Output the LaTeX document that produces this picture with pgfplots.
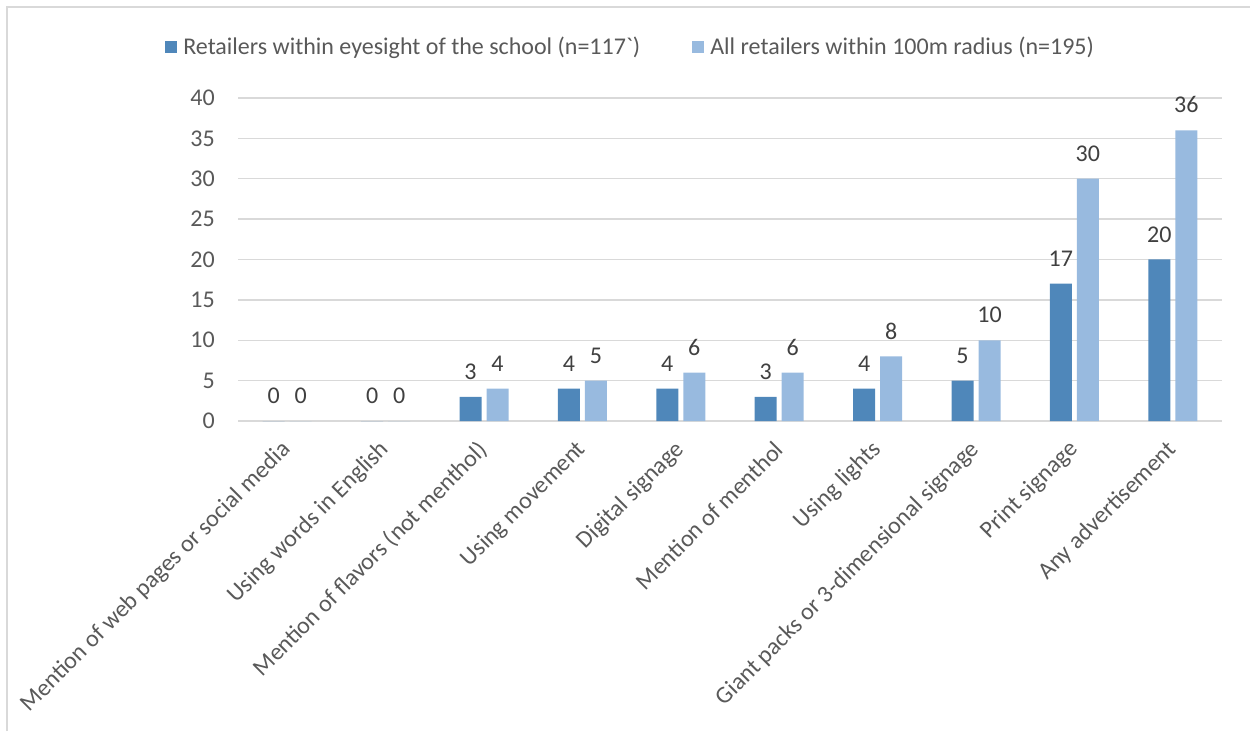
\documentclass[border=0pt]{standalone}
\usepackage{pgfplots}
\pgfplotsset{compat=1.18}
\usepackage{fontspec}
\setmainfont{Carlito}
\definecolor{darkbar}{HTML}{4F87BA}
\definecolor{lightbar}{HTML}{98BADF}
\definecolor{gridgray}{HTML}{D9D9D9}
\definecolor{labelgray}{HTML}{595959}
\definecolor{valgray}{HTML}{404040}
\newcommand{\chartfont}{\fontsize{24}{28}\selectfont}

\begin{document}
\begin{tikzpicture}[x=1pt,y=1pt]
\useasboundingbox (0,0) rectangle (1250,731);
% chart frame
\draw[gridgray, line width=2pt] (7,0) -- (7,724) -- (1250,724);
\begin{axis}[
  at={(238pt,310pt)}, anchor=south west,
  scale only axis, width=984pt, height=323pt,
  ybar=5pt, bar width=22pt,
  xmin=-0.5, xmax=9.5, ymin=0, ymax=40,
  enlargelimits=false,
  /pgf/number format/assume math mode=true,
  xtick={0,...,9},
  xticklabels={Mention of web pages or social media, Using words in English, Mention of flavors (not menthol), Using movement, Digital signage, Mention of menthol, Using lights, Giant packs or 3-dimensional signage, Print signage, Any advertisement},
  ytick={0,5,...,40},
  ymajorgrids,
  major grid style={gridgray, line width=1.5pt},
  axis line style={draw=none},
  tick style={draw=none},
  major tick length=0pt,
  tick label style={font=\chartfont, text=labelgray},
  yticklabel style={anchor=east, inner sep=0pt, xshift=-23pt},
  xticklabel style={xshift=0pt, yshift=-25pt, rotate=45, anchor=east, inner sep=0pt},
  nodes near coords,
  every node near coord/.append style={font=\chartfont, text=valgray, inner sep=0pt, anchor=south, yshift=17pt},
  legend columns=2,
  legend style={draw=none, fill=none, at={(0.399,1.158)}, anchor=center,
    font=\chartfont, text=labelgray,
    /tikz/every even column/.append style={column sep=50pt},
    /tikz/every odd column/.append style={column sep=4pt}},
]
\addplot[fill=darkbar, draw=none,
  legend image code/.code={\fill[darkbar] (0pt,-6pt) rectangle (12pt,6pt);}]
  coordinates {(0,0) (1,0) (2,3) (3,4) (4,4) (5,3) (6,4) (7,5) (8,17) (9,20)};
\addplot[fill=lightbar, draw=none,
  legend image code/.code={\fill[lightbar] (0pt,-6pt) rectangle (12pt,6pt);}]
  coordinates {(0,0) (1,0) (2,4) (3,5) (4,6) (5,6) (6,8) (7,10) (8,30) (9,36)};
\legend{Retailers within eyesight of the school (n=117\textasciigrave), All retailers within 100m radius (n=195)}
\end{axis}
\end{tikzpicture}
\end{document}
